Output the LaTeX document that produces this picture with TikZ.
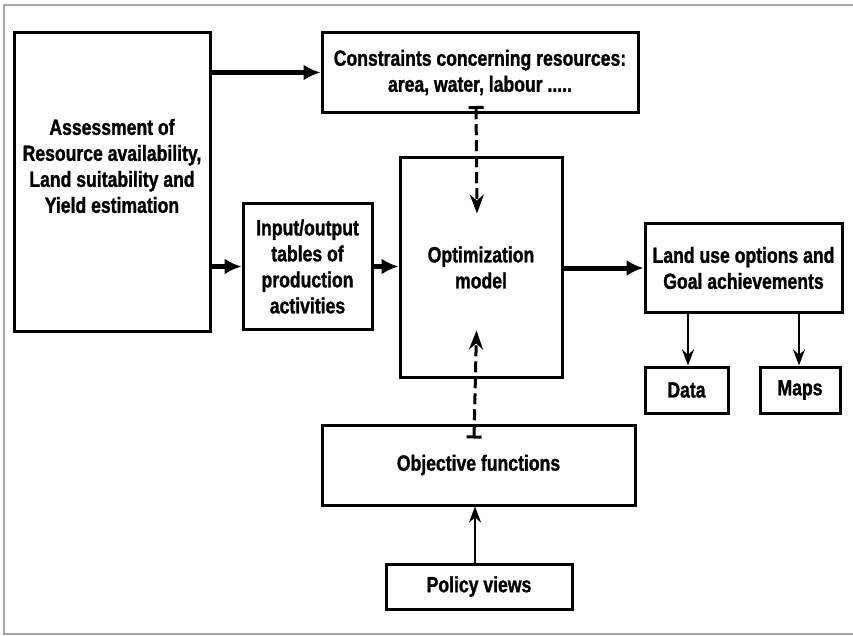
\documentclass[tikz,border=0pt]{standalone}
\usepackage{fontspec}
\setmainfont{Liberation Sans}[FakeStretch=0.80, BoldFeatures={FakeBold=1.2}]
\usepackage{tikz}
\usetikzlibrary{arrows.meta,calc}
\tikzset{
  blk/.style={rectangle, draw=black, line width=3pt, inner sep=0pt,
              font=\bfseries\fontsize{22}{26}\selectfont, align=center},
  lbl/.style={font=\bfseries\fontsize{22}{26}\selectfont, align=center, inner sep=0pt},
  mainarr/.style={-{Latex[length=17pt,width=16pt]}, line width=5pt},
  thinarr/.style={-{Stealth[length=16pt,width=12pt]}, line width=2.5pt},
  dasharr/.style={{Bar[width=15pt,line width=3pt]}-{Stealth[length=19pt,width=14pt]},
                  line width=3pt, dash pattern=on 11pt off 5pt},
  frame/.style={gray!70, line width=1.5pt},
}
\begin{document}
\begin{tikzpicture}[x=1pt,y=-1pt]
  \useasboundingbox (0,0) rectangle (853,636);
  \draw[frame] (860,5) -- (4,5) -- (4,634) -- (860,634);

  % Boxes
  \node[blk, minimum width=196, minimum height=298] (assess) at (112,182) {};
  \node[lbl] (assesstxt) at (112,166) {Assessment of\\Resource availability,\\Land suitability and\\Yield estimation};
  \node[blk, minimum width=316, minimum height=80] (cons) at (480,72.5)
    {Constraints concerning resources:\\area, water, labour .....};
  \node[blk, minimum width=129, minimum height=125] (io) at (307.5,266.5)
    {Input/output\\tables of\\production\\activities};
  \node[blk, minimum width=162, minimum height=219] (opt) at (481,267.5)
    {Optimization\\model};
  \node[blk, minimum width=197, minimum height=88] (land) at (743.5,268)
    {Land use options and\\Goal achievements};
  \node[blk, minimum width=83, minimum height=46] (data) at (686.5,390) {Data};
  \node[blk, minimum width=80, minimum height=46] (maps) at (800,390) {Maps};
  \node[blk, minimum width=313, minimum height=80] (obj) at (478.5,465) {Objective functions};
  \node[blk, minimum width=186, minimum height=45] (policy) at (479,586.5) {Policy views};

  % Main flow
  \draw[mainarr] (assess.east |- cons.west) -- (cons.west);
  \draw[mainarr] (assess.east |- io.west) -- (io.west);
  \draw[mainarr] (io.east) -- (io.east -| opt.west);
  \draw[mainarr] (opt.east |- land.west) -- (land.west);

  % Outputs
  \draw[thinarr] ([xshift=1.5pt]data.north |- land.south) -- ([xshift=1.5pt]data.north);
  \draw[thinarr] ([xshift=-1pt]maps.north |- land.south) -- ([xshift=-1pt]maps.north);
  \draw[thinarr] ([xshift=-4pt]policy.north) -- ([xshift=-4pt]policy.north |- obj.south);

  % Constraints and objectives into the model
  \draw[dasharr] ([xshift=-4pt,yshift=8pt]cons.south) -- ([xshift=-4pt,yshift=-57pt]opt.north);
  \draw[dasharr] ([xshift=-4.5pt,yshift=-15pt]obj.north) -- ([xshift=-4.5pt,yshift=48pt]opt.south);
\end{tikzpicture}
\end{document}
